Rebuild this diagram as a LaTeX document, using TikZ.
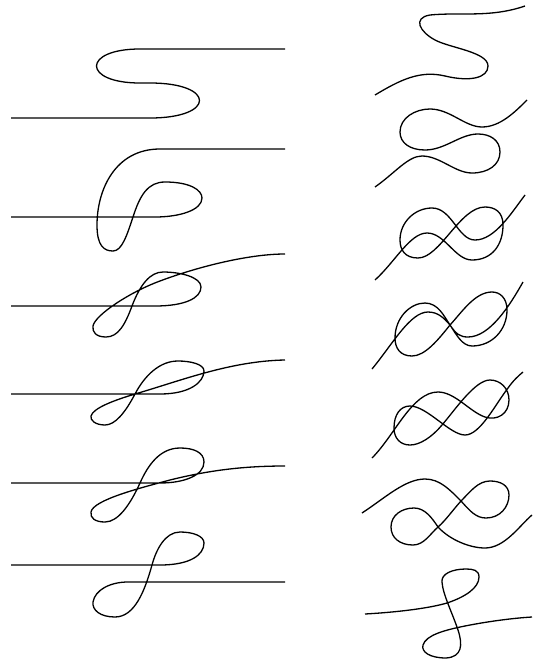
\documentclass[tikz,border=0pt]{standalone}
\begin{document}
\begin{tikzpicture}[x=1pt,y=-1pt,knot/.style={line width=1.3pt,line join=round}]
\useasboundingbox (0,0) rectangle (535,664);
% left column
\draw[knot] (285,49) -- (140,49) .. controls (82,49) and (82,83) .. (140,83) -- (150,83) .. controls (216,83) and (216,118) .. (150,118) -- (11,118);
\draw[knot] (285,149) -- (160,149) .. controls (115,149) and (97,190) .. (97,225) .. controls (97,246) and (104,251) .. (113,251) .. controls (122,251) and (127,235) .. (133,217) .. controls (140,195) and (148,182) .. (165,182) .. controls (190,182) and (202,190) .. (202,198) .. controls (202,210) and (180,217) .. (155,217) -- (11,217);
\draw[knot] (11,306) -- (155,306) .. controls (185,306) and (201,298) .. (201,287) .. controls (201,277) and (180,272) .. (163,272) .. controls (150,272) and (140,285) .. (132,306) .. controls (125,325) and (118,337) .. (106,337) .. controls (96,337) and (92,332) .. (93,326) .. controls (95,315) and (130,292) .. (160,281) .. controls (200,266) and (250,254) .. (285,254);
\draw[knot] (11,394) -- (160,394) .. controls (190,394) and (204,382) .. (204,371) .. controls (204,364) and (190,361) .. (178,361) .. controls (160,361) and (145,375) .. (135,394) .. controls (125,413) and (115,425) .. (105,425) .. controls (95,425) and (90,420) .. (91,416) .. controls (93,408) and (115,400) .. (135,394) .. controls (180,381) and (230,361) .. (285,360);
\draw[knot] (11,483) -- (160,483) .. controls (185,483) and (204,475) .. (204,462) .. controls (204,452) and (193,448) .. (180,448) .. controls (160,448) and (148,465) .. (140,483) .. controls (130,505) and (118,522) .. (105,522) .. controls (95,522) and (90,518) .. (91,512) .. controls (93,500) and (140,488) .. (170,480) .. controls (210,470) and (245,466) .. (285,466);
\draw[knot] (11,565) -- (160,565) .. controls (190,565) and (204,555) .. (204,543) .. controls (204,536) and (193,532) .. (180,532) .. controls (165,532) and (156,550) .. (152,565) .. controls (145,590) and (135,617) .. (115,617) .. controls (100,617) and (92,610) .. (93,602) .. controls (95,590) and (110,582) .. (128,582) -- (285,582);
% right column
\draw[knot] (375,95) .. controls (400,80) and (420,70) .. (445,76) .. controls (470,82) and (488,78) .. (488,66) .. controls (488,52) and (450,48) .. (435,40) .. controls (420,32) and (412,18) .. (430,15) .. controls (460,12) and (490,18) .. (525,6);
\draw[knot] (375,187) .. controls (395,173) and (408,156) .. (422,156) .. controls (440,156) and (455,173) .. (472,173) .. controls (488,173) and (500,165) .. (500,152) .. controls (500,140) and (490,134) .. (478,134) .. controls (460,134) and (445,150) .. (425,150) .. controls (410,150) and (400,143) .. (400,132) .. controls (400,118) and (415,109) .. (430,109) .. controls (450,109) and (465,127) .. (482,127) .. controls (500,127) and (515,112) .. (527,100);
\draw[knot] (375,280) .. controls (395,262) and (410,233) .. (427,233) .. controls (445,233) and (455,260) .. (472,260) .. controls (492,260) and (503,245) .. (503,225) .. controls (503,212) and (495,207) .. (485,207) .. controls (460,207) and (440,258) .. (418,258) .. controls (405,258) and (400,250) .. (400,240) .. controls (400,222) and (415,208) .. (432,208) .. controls (452,208) and (458,240) .. (475,240) .. controls (495,240) and (512,212) .. (525,195);
\draw[knot] (372,369) .. controls (392,345) and (410,312) .. (428,312) .. controls (438,312) and (444,318) .. (450,325) .. controls (456,334) and (462,346) .. (472,346) .. controls (492,346) and (507,330) .. (507,310) .. controls (507,298) and (500,292) .. (492,292) .. controls (475,292) and (462,312) .. (450,325) .. controls (438,340) and (425,356) .. (412,356) .. controls (400,356) and (395,348) .. (395,338) .. controls (395,318) and (410,303) .. (425,303) .. controls (438,303) and (444,316) .. (450,325) .. controls (456,334) and (460,337) .. (468,337) .. controls (490,337) and (510,305) .. (523,282);
\draw[knot] (372,458) .. controls (395,435) and (412,392) .. (438,392) .. controls (455,392) and (470,412) .. (485,417) .. controls (497,421) and (509,414) .. (509,400) .. controls (509,388) and (500,380) .. (490,380) .. controls (475,380) and (455,410) .. (442,425) .. controls (432,437) and (420,445) .. (410,445) .. controls (400,445) and (394,438) .. (394,428) .. controls (394,415) and (400,406) .. (410,406) .. controls (427,406) and (450,435) .. (465,435) .. controls (480,435) and (495,405) .. (508,388) .. controls (513,381) and (518,376) .. (523,372);
\draw[knot] (362,513) .. controls (385,498) and (405,479) .. (425,479) .. controls (440,479) and (450,490) .. (461,501) .. controls (470,511) and (476,518) .. (486,518) .. controls (500,518) and (509,507) .. (509,495) .. controls (509,485) and (500,481) .. (490,481) .. controls (478,481) and (470,492) .. (461,501) .. controls (452,511) and (446,520) .. (438,527) .. controls (430,534) and (424,545) .. (413,545) .. controls (400,545) and (391,538) .. (391,527) .. controls (391,515) and (402,508) .. (414,508) .. controls (425,508) and (432,518) .. (438,527) .. controls (450,540) and (470,548) .. (485,548) .. controls (505,548) and (520,525) .. (532,515);
\draw[knot] (365,614) .. controls (400,612) and (430,608) .. (447,603) .. controls (465,597) and (479,588) .. (479,577) .. controls (479,570) and (473,569) .. (466,569) .. controls (452,569) and (441,574) .. (442,582) .. controls (443,595) and (452,612) .. (458,630) .. controls (463,645) and (462,657) .. (446,658) .. controls (430,658) and (421,652) .. (423,645) .. controls (426,635) and (445,630) .. (465,626) .. controls (490,621) and (515,618) .. (532,617);
\end{tikzpicture}
\end{document}
